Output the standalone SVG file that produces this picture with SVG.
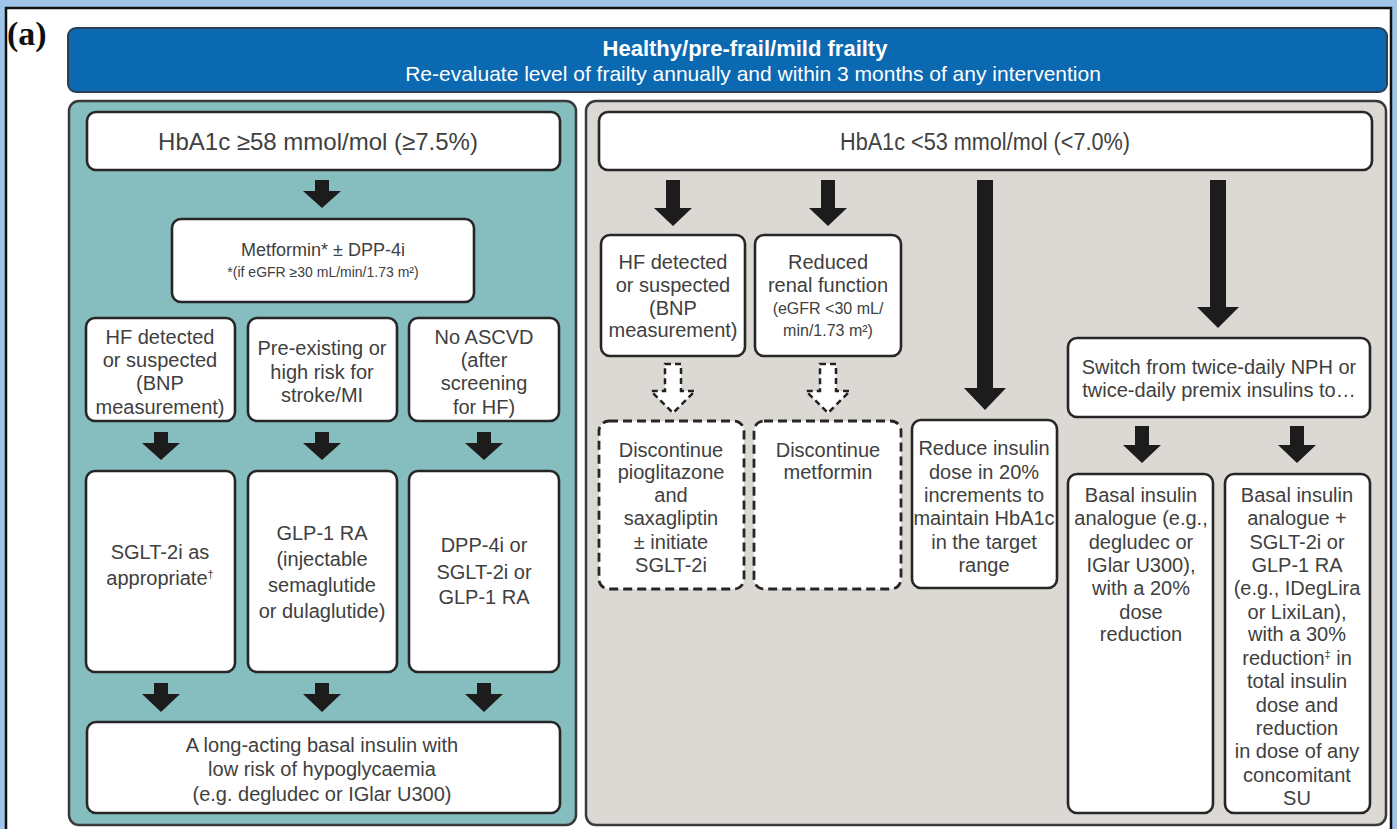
<svg xmlns="http://www.w3.org/2000/svg" width="1397" height="829" viewBox="0 0 1397 829">
<style>
.box{fill:#fff;stroke:#262626;stroke-width:2.6}
.dbox{fill:#fff;stroke:#262626;stroke-width:2.8;stroke-dasharray:9 5}
.t{font-family:"Liberation Sans",Arial,sans-serif;font-size:20px;fill:#404040;text-anchor:middle}
.s{font-size:16px}
.big{font-size:24px}
.arr{fill:#1c1c1c}
.darr{fill:#fff;stroke:#222;stroke-width:2.5;stroke-dasharray:6 4}
.hd{font-family:"Liberation Sans",Arial,sans-serif;fill:#fff;text-anchor:middle;font-size:21px}
</style>
<rect x="0" y="0" width="1397" height="829" fill="#9fc5e8"/>
<rect x="6" y="8" width="1385" height="830" fill="#fff" stroke="#111" stroke-width="2.5"/>
<text x="7" y="45" font-family="'Liberation Serif',serif" font-weight="bold" font-size="34" fill="#111">(a)</text>

<g id="header">
<rect x="68" y="28" width="1319" height="64" rx="8" fill="#0b69b2" stroke="#2d3f52" stroke-width="2"/>
<text class="hd" x="745" y="56" font-weight="bold" style="font-size:22px">Healthy/pre-frail/mild frailty</text>
<text class="hd" x="753" y="81">Re-evaluate level of frailty annually and within 3 months of any intervention</text>
</g>

<g id="panel-left"><rect x="69" y="101" width="507" height="724" rx="10" fill="#86bebf" stroke="#3a3a3a" stroke-width="2.5"/></g>
<g id="panel-right"><rect x="586" y="101" width="800" height="724" rx="10" fill="#dcd8d4" stroke="#3a3a3a" stroke-width="2.5"/></g>

<g id="connectors">
<path class="arr" d="M315 180H329V191H341L322 208L303 191H315Z"/>
<path class="arr" d="M154 432H168V443H180L161 460L142 443H154Z"/>
<path class="arr" d="M315 432H329V443H341L322 460L303 443H315Z"/>
<path class="arr" d="M477 432H491V443H503L484 460L465 443H477Z"/>
<path class="arr" d="M154 683H168V694H180L161 712L142 694H154Z"/>
<path class="arr" d="M315 683H329V694H341L322 712L303 694H315Z"/>
<path class="arr" d="M477 683H491V694H503L484 712L465 694H477Z"/>
<path class="arr" d="M666 180H680V208H692L673 226L654 208H666Z"/>
<path class="arr" d="M821 180H835V208H847L828 226L809 208H821Z"/>
<path class="arr" d="M977 180H993V388H1006L985 410L964 388H977Z"/>
<path class="arr" d="M1210 180H1226V307H1239L1218 328L1197 307H1210Z"/>
<path class="arr" d="M1135 426H1149V445H1161L1142 463L1123 445H1135Z"/>
<path class="arr" d="M1290 426H1304V445H1316L1297 463L1278 445H1290Z"/>
<path class="darr" d="M665 364H681V391H695L673 413L651 391H665Z"/>
<path class="darr" d="M820 364H836V391H850L828 413L806 391H820Z"/>
</g>

<g id="n-hba1c-high"><rect class="box" x="87" y="112" width="473" height="58" rx="9"/>
<text class="t big" x="318" y="150">HbA1c ≥58 mmol/mol (≥7.5%)</text></g>
<g id="n-metformin"><rect class="box" x="172" y="219" width="302" height="83" rx="9"/>
<text class="t" x="323" y="256" style="font-size:18px">Metformin* ± DPP-4i</text>
<text class="t" x="323" y="277" style="font-size:14px">*(if eGFR ≥30 mL/min/1.73 m²)</text></g>

<g id="n-hf-left"><rect class="box" x="86" y="318" width="149" height="103" rx="9"/>
<text class="t"><tspan x="160" y="344">HF detected</tspan><tspan x="160" y="367">or suspected</tspan><tspan x="160" y="390">(BNP</tspan><tspan x="160" y="414">measurement)</tspan></text></g>
<g id="n-stroke"><rect class="box" x="248" y="318" width="149" height="103" rx="9"/>
<text class="t"><tspan x="322" y="355">Pre-existing or</tspan><tspan x="322" y="379">high risk for</tspan><tspan x="322" y="402">stroke/MI</tspan></text></g>
<g id="n-noascvd"><rect class="box" x="409" y="318" width="150" height="103" rx="9"/>
<text class="t"><tspan x="484" y="344">No ASCVD</tspan><tspan x="484" y="367">(after</tspan><tspan x="484" y="390">screening</tspan><tspan x="484" y="414">for HF)</tspan></text></g>

<g id="n-sglt"><rect class="box" x="86" y="471" width="149" height="201" rx="9"/>
<text class="t"><tspan x="160" y="559">SGLT-2i as</tspan><tspan x="160" y="585">appropriate<tspan style="font-size:11px" dy="-7">†</tspan></tspan></text></g>
<g id="n-glp"><rect class="box" x="248" y="471" width="149" height="201" rx="9"/>
<text class="t"><tspan x="322" y="540">GLP-1 RA</tspan><tspan x="322" y="566">(injectable</tspan><tspan x="322" y="592">semaglutide</tspan><tspan x="322" y="618">or dulaglutide)</tspan></text></g>
<g id="n-dpp"><rect class="box" x="409" y="471" width="150" height="201" rx="9"/>
<text class="t"><tspan x="484" y="552">DPP-4i or</tspan><tspan x="484" y="579">SGLT-2i or</tspan><tspan x="484" y="604">GLP-1 RA</tspan></text></g>

<g id="n-basal-left"><rect class="box" x="87" y="722" width="473" height="91" rx="9"/>
<text class="t"><tspan x="322" y="752">A long-acting basal insulin with</tspan><tspan x="322" y="776">low risk of hypoglycaemia</tspan><tspan x="322" y="801">(e.g. degludec or IGlar U300)</tspan></text></g>

<g id="n-hba1c-low"><rect class="box" x="599" y="112" width="773" height="58" rx="9"/>
<text class="t" x="985" y="150" style="font-size:23px" textLength="290" lengthAdjust="spacingAndGlyphs">HbA1c &lt;53 mmol/mol (&lt;7.0%)</text></g>

<g id="n-hf-right"><rect class="box" x="601" y="235" width="144" height="121" rx="9"/>
<text class="t"><tspan x="673" y="269">HF detected</tspan><tspan x="673" y="292">or suspected</tspan><tspan x="673" y="315">(BNP</tspan><tspan x="673" y="337">measurement)</tspan></text></g>
<g id="n-renal"><rect class="box" x="755" y="235" width="146" height="121" rx="9"/>
<text class="t"><tspan x="828" y="269">Reduced</tspan><tspan x="828" y="292">renal function</tspan><tspan x="828" y="314" class="s">(eGFR &lt;30 mL/</tspan><tspan x="828" y="336" class="s">min/1.73 m²)</tspan></text></g>

<g id="n-disc-pio"><rect class="dbox" x="599" y="421" width="145" height="168" rx="10"/>
<text class="t"><tspan x="671" y="457">Discontinue</tspan><tspan x="671" y="479">pioglitazone</tspan><tspan x="671" y="502">and</tspan><tspan x="671" y="525">saxagliptin</tspan><tspan x="671" y="549">± initiate</tspan><tspan x="671" y="572">SGLT-2i</tspan></text></g>
<g id="n-disc-met"><rect class="dbox" x="754" y="421" width="147" height="168" rx="10"/>
<text class="t"><tspan x="828" y="457">Discontinue</tspan><tspan x="828" y="479">metformin</tspan></text></g>
<g id="n-reduce"><rect class="box" x="912" y="420" width="145" height="168" rx="9"/>
<text class="t"><tspan x="984" y="455">Reduce insulin</tspan><tspan x="984" y="479">dose in 20%</tspan><tspan x="984" y="502">increments to</tspan><tspan x="984" y="525">maintain HbA1c</tspan><tspan x="984" y="549">in the target</tspan><tspan x="984" y="572">range</tspan></text></g>

<g id="n-switch"><rect class="box" x="1068" y="338" width="302" height="79" rx="9"/>
<text class="t"><tspan x="1219" y="374">Switch from twice-daily NPH or</tspan><tspan x="1219" y="397">twice-daily premix insulins to…</tspan></text></g>
<g id="n-basal-20"><rect class="box" x="1068" y="474" width="145" height="339" rx="9"/>
<text class="t"><tspan x="1141" y="502">Basal insulin</tspan><tspan x="1141" y="525">analogue (e.g.,</tspan><tspan x="1141" y="549">degludec or</tspan><tspan x="1141" y="572">IGlar U300),</tspan><tspan x="1141" y="595">with a 20%</tspan><tspan x="1141" y="619">dose</tspan><tspan x="1141" y="641">reduction</tspan></text></g>
<g id="n-basal-30"><rect class="box" x="1225" y="474" width="145" height="339" rx="9"/>
<text class="t"><tspan x="1297" y="502">Basal insulin</tspan><tspan x="1297" y="525">analogue +</tspan><tspan x="1297" y="549">SGLT-2i or</tspan><tspan x="1297" y="572">GLP-1 RA</tspan><tspan x="1297" y="595">(e.g., IDegLira</tspan><tspan x="1297" y="619">or LixiLan),</tspan><tspan x="1297" y="641">with a 30%</tspan><tspan x="1297" y="665">reduction<tspan style="font-size:11px" dy="-7">‡</tspan><tspan dy="7"> in</tspan></tspan><tspan x="1297" y="688">total insulin</tspan><tspan x="1297" y="712">dose and</tspan><tspan x="1297" y="735">reduction</tspan><tspan x="1297" y="758">in dose of any</tspan><tspan x="1297" y="782">concomitant</tspan><tspan x="1297" y="805">SU</tspan></text></g>
</svg>
